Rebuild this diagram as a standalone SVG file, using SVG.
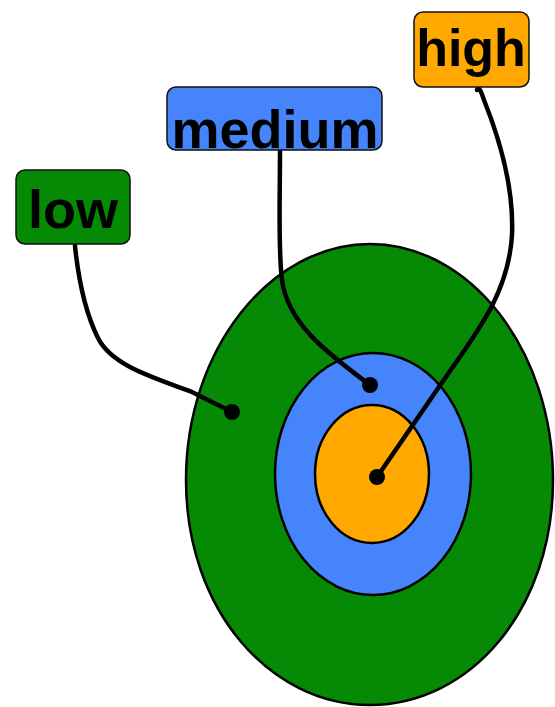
<svg xmlns="http://www.w3.org/2000/svg" width="555" height="707" viewBox="0 0 555 707">
<style>
.ring{stroke:#000;stroke-width:2.5}
.box{stroke:#111;stroke-width:1.5}
.lbl{font-family:"Liberation Sans",Arial,sans-serif;font-weight:bold;fill:#000;text-anchor:middle}
.conn{fill:none;stroke:#000;stroke-width:4.5;stroke-linecap:round}
.dot{fill:#000}
</style>
<rect width="555" height="707" fill="#fff"/>
<g id="rings">
<path class="ring" fill="#068a06" d="M370,244 C470,244 553,350 553,480 C553,610 470,705 370,705 C270,705 186,610 186,480 C186,350 270,244 370,244 Z"/>
<ellipse class="ring" cx="373" cy="474" rx="98" ry="121" fill="#4584fa"/>
<ellipse class="ring" cx="372" cy="474" rx="57" ry="69" fill="#ffa800"/>
</g>
<g id="connectors">
<path class="conn" d="M75,246 C78,275 84,310 98,338 C112,366 155,378 192,392 L232,412"/>
<path class="conn" d="M280,151 C280,200 278,250 282,280 C288,325 330,355 370,385"/>
<path class="conn" d="M477,90 C478,86 480,88 484,100 C500,140 514,190 512,235 C508,300 470,340 430,400 L377,477"/>
<circle class="dot" cx="232" cy="412" r="8"/>
<circle class="dot" cx="370" cy="385" r="8"/>
<circle class="dot" cx="377" cy="477" r="8"/>
</g>
<g id="low">
<rect class="box" x="16" y="170" width="114" height="74" rx="9" fill="#068a06"/>
<text class="lbl" x="73" y="228" font-size="54">low</text>
</g>
<g id="medium">
<rect class="box" x="167" y="87" width="215" height="63" rx="9" fill="#4584fa"/>
<text class="lbl" x="275" y="148" font-size="54">medium</text>
</g>
<g id="high">
<rect class="box" x="414" y="12" width="115" height="75" rx="9" fill="#ffa800"/>
<text class="lbl" x="471" y="66" font-size="52">high</text>
</g>
</svg>
